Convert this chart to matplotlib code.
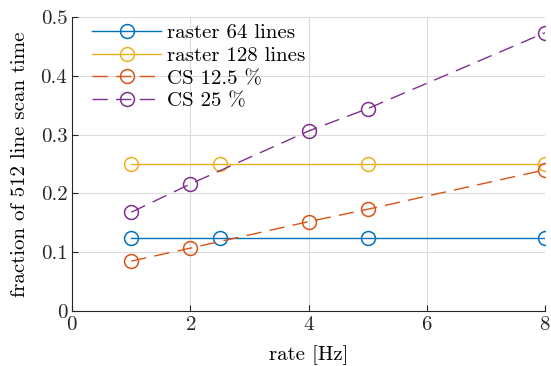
import numpy as np
from matplotlib import pyplot as plt

plt.rcParams['font.family'] = ['cmr10', 'DejaVu Serif']
plt.rcParams['mathtext.fontset'] = 'cm'
plt.rcParams['axes.formatter.use_mathtext'] = True

rate_raster = [1, 2.5, 5, 8]
raster_64 = [0.125, 0.125, 0.125, 0.125]
raster_128 = [0.25, 0.25, 0.25, 0.25]

rate_cs = [1, 2, 4, 5, 8]
cs_125 = [0.085, 0.107, 0.152, 0.173, 0.240]
cs_25 = [0.168, 0.216, 0.306, 0.344, 0.473]

labels = ['raster 64 lines', 'raster 128 lines', 'CS 12.5 %', 'CS 25 %']
colors = ['#0072BD', '#EDB120', '#D95319', '#7E2F8E']

fig = plt.figure(figsize=(5.51, 3.66), dpi=100)
ax = fig.add_axes([0.131, 0.150, 0.858, 0.804])

mk = dict(marker='o', markersize=10, markerfacecolor='none', markeredgewidth=1.1)
ax.plot(rate_raster, raster_64, color=colors[0], lw=1.0, label=labels[0], **mk)
ax.plot(rate_raster, raster_128, color=colors[1], lw=1.0, label=labels[1], **mk)
ax.plot(rate_cs, cs_125, color=colors[2], lw=1.0, dashes=(11, 6), label=labels[2], **mk)
ax.plot(rate_cs, cs_25, color=colors[3], lw=1.0, dashes=(11, 6), label=labels[3], **mk)

ax.set_xlim(0, 8)
ax.set_ylim(0, 0.5)
ax.set_xticks([0, 2, 4, 6, 8])
ax.set_yticks([0, 0.1, 0.2, 0.3, 0.4, 0.5])
ax.set_yticklabels(['0', '0.1', '0.2', '0.3', '0.4', '0.5'])

ax.spines['top'].set_visible(False)
ax.spines['right'].set_visible(False)
ax.spines['left'].set_color('#262626')
ax.spines['bottom'].set_color('#262626')
ax.tick_params(direction='in', length=4, labelsize=15, colors='#262626')
ax.grid(color='#dcdcdc', lw=0.8)
ax.set_axisbelow(True)

ax.set_xlabel('rate [Hz]', fontsize=15, labelpad=8)
ax.set_ylabel('fraction of 512 line scan time', fontsize=15, labelpad=8)

ax.legend(loc='upper left', bbox_to_anchor=(0.025, 1.005), frameon=False, fontsize=15,
          handlelength=3.3, handletextpad=0.3, labelspacing=0.2, borderaxespad=0.0)

fig.savefig('out.png', dpi=100)
